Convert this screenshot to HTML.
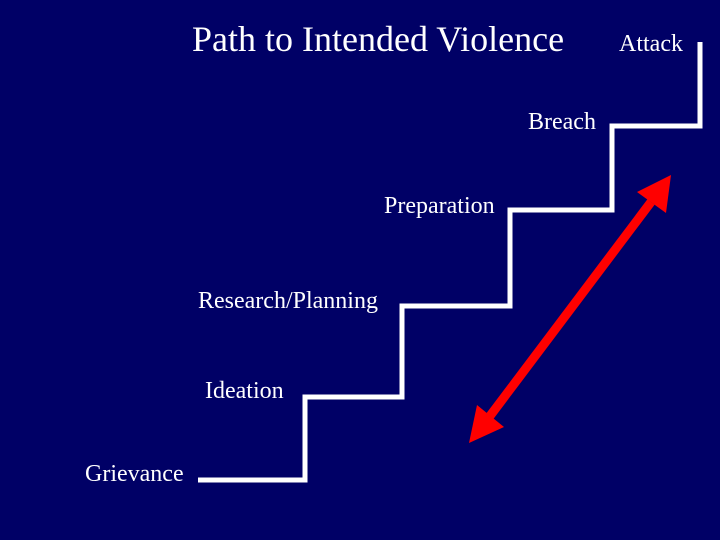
<!DOCTYPE html>
<html><head><style>
body{margin:0;width:720px;height:540px;background:#000066;overflow:hidden}
svg{display:block}
text{font-family:"Liberation Serif",serif;fill:#fff}
</style></head><body>
<svg width="720" height="540" viewBox="0 0 720 540">
<rect width="720" height="540" fill="#000066"/>
<polyline points="198,480 305,480 305,397 402,397 402,306 510,306 510,210 612,210 612,126 700,126 700,42" fill="none" stroke="#fff" stroke-width="5"/>
<line x1="490" y1="416" x2="651" y2="202" stroke="#f00" stroke-width="9"/>
<polygon points="671,175 637,192 666,213" fill="#f00"/>
<polygon points="469,443 477,405 504,427" fill="#f00"/>
<text x="192" y="51" font-size="36">Path to Intended Violence</text>
<text x="619" y="51" font-size="24">Attack</text>
<text x="528" y="129" font-size="24">Breach</text>
<text x="384" y="213" font-size="24">Preparation</text>
<text x="198" y="308" font-size="24">Research/Planning</text>
<text x="205" y="398" font-size="24">Ideation</text>
<text x="85" y="481" font-size="24">Grievance</text>
</svg>
</body></html>
